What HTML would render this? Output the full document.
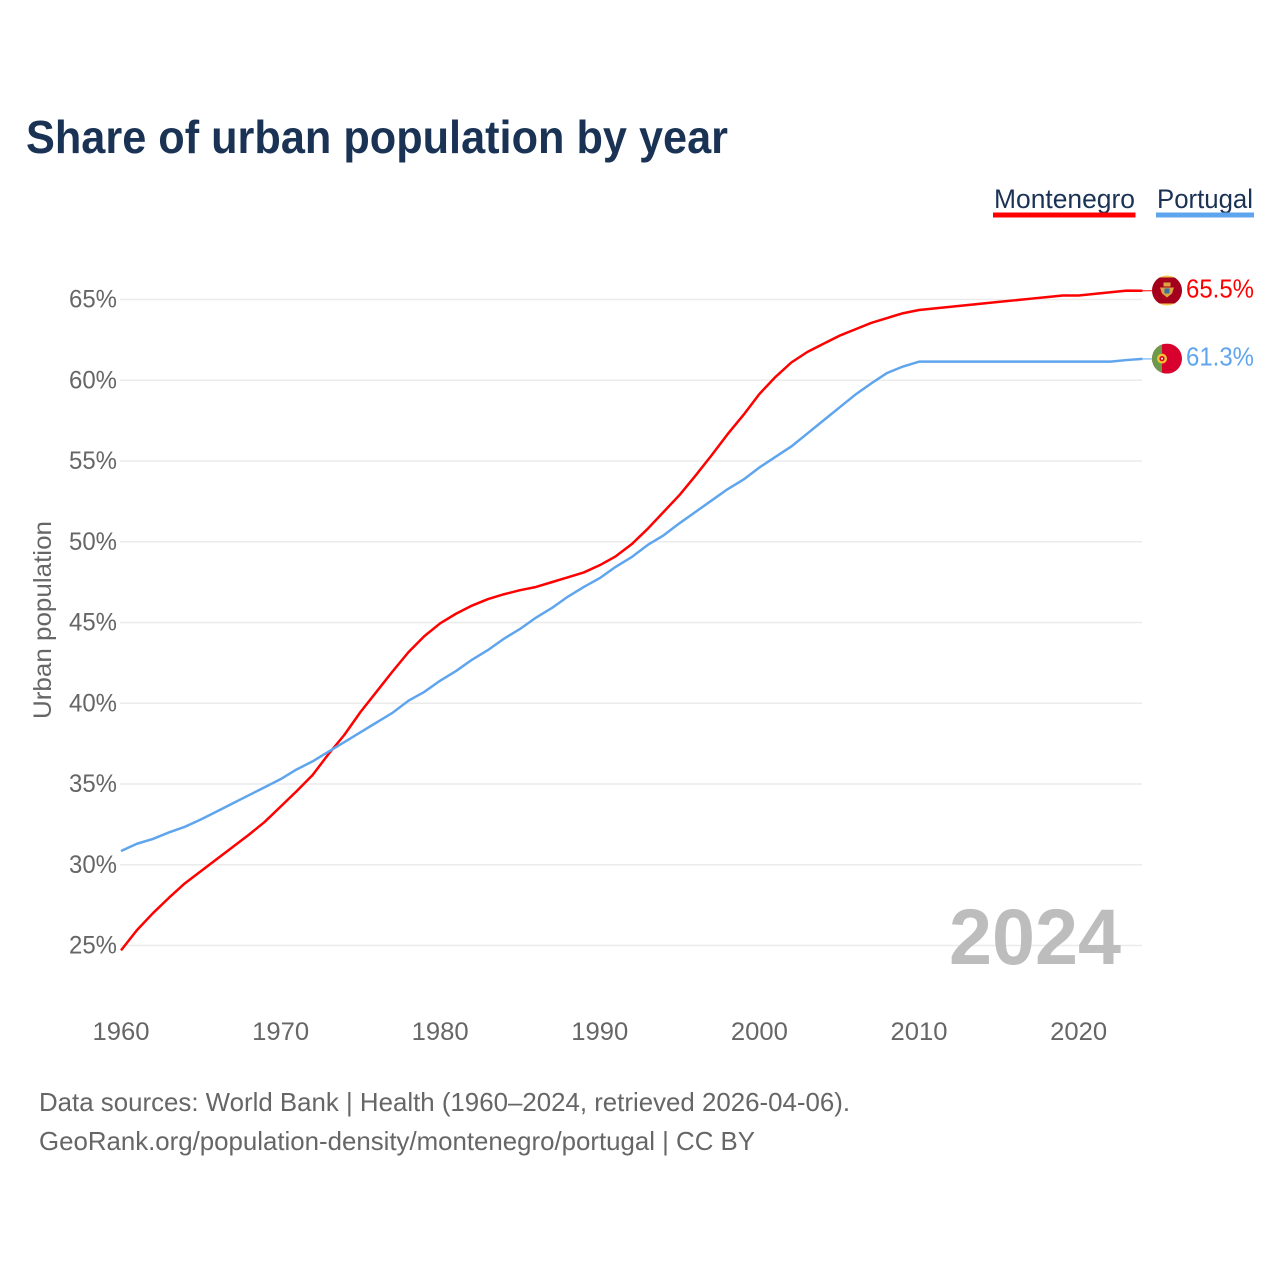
<!DOCTYPE html>
<html lang="en">
<head>
<meta charset="utf-8">
<title>Share of urban population by year</title>
<style>
html,body{margin:0;padding:0;background:#fff;}
svg{display:block;}
text{font-family:"Liberation Sans",sans-serif;}
</style>
</head>
<body>
<svg id="chart" width="1280" height="1280" viewBox="0 0 1280 1280" xmlns="http://www.w3.org/2000/svg">
  <rect width="1280" height="1280" fill="#fff"/>
  <text x="26" y="153" font-size="46" font-weight="700" fill="#1a3355" textLength="702" lengthAdjust="spacingAndGlyphs">Share of urban population by year</text>

  <g>
    <g>
      <text x="994" y="208" font-size="27" fill="#1a3355" textLength="141" lengthAdjust="spacingAndGlyphs">Montenegro</text>
      <rect x="993" y="212.5" width="142.5" height="5" fill="#ff0000"/>
    </g>
    <g>
      <text x="1157" y="208" font-size="27" fill="#1a3355" textLength="96" lengthAdjust="spacingAndGlyphs">Portugal</text>
      <rect x="1156" y="212.5" width="98" height="5" fill="#5fa5ee"/>
    </g>
  </g>

  <g id="grid"></g>
  <g id="yticks"></g>
  <g id="xticks"></g>

  <text transform="translate(51,719) rotate(-90)" x="0" y="0" font-size="25" fill="#666" textLength="198" lengthAdjust="spacingAndGlyphs">Urban population</text>

  <text x="949" y="964" font-size="79" font-weight="700" fill="#bdbdbd" textLength="172" lengthAdjust="spacingAndGlyphs">2024</text>

  <g id="series"></g>

  <g id="flag-montenegro">
    <circle r="15" fill="#f2c94c"/>
    <clipPath id="clipMe"><circle r="15"/></clipPath>
    <rect x="-15" y="-13" width="30" height="26" fill="#a4001d" clip-path="url(#clipMe)"/>
    <rect x="-3.5" y="-8" width="7" height="4" fill="#d9a441"/>
    <path d="M-7 -3 L7 -3 L5 3 L0 7 L-5 3 Z" fill="#d9a441"/>
    <rect x="-2.5" y="-2" width="5" height="5" fill="#3a6ea5"/>
  </g>
  <g id="flag-portugal">
    <clipPath id="clipPt"><circle r="15"/></clipPath>
    <g clip-path="url(#clipPt)">
      <rect x="-15" y="-15" width="30" height="30" fill="#d8002c"/>
      <rect x="-15" y="-15" width="10" height="30" fill="#6a9a4a"/>
    </g>
    <circle cx="-5" cy="0" r="5" fill="#f2c230"/>
    <circle cx="-5" cy="0" r="2.6" fill="#d8002c"/>
    <circle cx="-5" cy="0" r="1" fill="#fff"/>
  </g>

  <text id="end-label-montenegro" x="1186" font-size="26" fill="#ff0000" textLength="68" lengthAdjust="spacingAndGlyphs"></text>
  <text id="end-label-portugal" x="1186" font-size="26" fill="#5fa5ee" textLength="68" lengthAdjust="spacingAndGlyphs"></text>

  <text x="39" y="1111" font-size="26" fill="#666" textLength="811" lengthAdjust="spacingAndGlyphs">Data sources: World Bank | Health (1960–2024, retrieved 2026-04-06).</text>
  <text x="39" y="1150" font-size="26" fill="#666" textLength="716" lengthAdjust="spacingAndGlyphs">GeoRank.org/population-density/montenegro/portugal | CC BY</text>
</svg>
<script>
const startYear = 1960;
const yTickValues = [25, 30, 35, 40, 45, 50, 55, 60, 65];
const yTickLabels = ["25%", "30%", "35%", "40%", "45%", "50%", "55%", "60%", "65%"];
const xTickValues = [1960, 1970, 1980, 1990, 2000, 2010, 2020];
const xTickLabels = ["1960", "1970", "1980", "1990", "2000", "2010", "2020"];
const montenegroValues = [
  24.7, 25.95, 27.0, 27.95, 28.85, 29.6, 30.35, 31.1, 31.85, 32.65,
  33.6, 34.55, 35.55, 36.85, 38.05, 39.45, 40.7, 41.95, 43.15, 44.15,
  44.95, 45.55, 46.05, 46.45, 46.75, 47.0, 47.2, 47.5, 47.8, 48.1,
  48.55, 49.1, 49.85, 50.8, 51.85, 52.9, 54.1, 55.35, 56.65, 57.85,
  59.15, 60.2, 61.1, 61.75, 62.25, 62.75, 63.15, 63.55, 63.85, 64.15,
  64.35, 64.45, 64.55, 64.65, 64.75, 64.85, 64.95, 65.05, 65.15, 65.25,
  65.25, 65.35, 65.45, 65.55, 65.54
];
const portugalValues = [
  30.85, 31.3, 31.6, 32.0, 32.35, 32.8, 33.3, 33.8, 34.3, 34.8,
  35.3, 35.9, 36.4, 37.0, 37.6, 38.2, 38.8, 39.4, 40.15, 40.7,
  41.4, 42.0, 42.7, 43.3, 44.0, 44.6, 45.3, 45.9, 46.6, 47.2,
  47.75, 48.45, 49.05, 49.8, 50.4, 51.15, 51.85, 52.55, 53.25, 53.85,
  54.6, 55.25, 55.9, 56.7, 57.5, 58.3, 59.1, 59.8, 60.45, 60.85,
  61.15, 61.15, 61.15, 61.15, 61.15, 61.15, 61.15, 61.15, 61.15, 61.15,
  61.15, 61.15, 61.15, 61.25, 61.32
];

const NS = "http://www.w3.org/2000/svg";
function xScale(year) { return 121 + (year - 1960) * 15.96; }
function yScale(v) { return 945.5 - (v - 25) * 16.15; }
function make(tag, attrs) {
  const el = document.createElementNS(NS, tag);
  for (const k in attrs) el.setAttribute(k, attrs[k]);
  return el;
}

const grid = document.getElementById("grid");
const yticks = document.getElementById("yticks");
yTickValues.forEach(function (v, i) {
  const line = make("line", { x1: 120, x2: 1142, y1: yScale(v), y2: yScale(v), stroke: "#ebebeb", "stroke-width": 1.4 });
  
  
  grid.appendChild(line);
  const label = make("text", { x: 69, y: yScale(v) + 8, "font-size": 25, fill: "#666", textLength: 48, lengthAdjust: "spacingAndGlyphs" });
  
  
  label.textContent = yTickLabels[i];
  yticks.appendChild(label);
});

const xticks = document.getElementById("xticks");
xTickValues.forEach(function (year, i) {
  const label = make("text", { x: xScale(year) - 28.5, y: 1040, "font-size": 25, fill: "#666", textLength: 57, lengthAdjust: "spacingAndGlyphs" });
  
  
  label.textContent = xTickLabels[i];
  xticks.appendChild(label);
});

const seriesGroup = document.getElementById("series");
function drawSeries(values, color, name, endId, flagId) {
  const d = values.map(function (v, i) {
    return (i ? "L" : "M") + xScale(startYear + i).toFixed(2) + " " + yScale(v).toFixed(2);
  }).join(" ");
  const path = make("path", { d: d, fill: "none", stroke: color, "stroke-width": 2.5, "stroke-linejoin": "round" });
  
  
  seriesGroup.appendChild(path);

  const last = values[values.length - 1];
  const lastX = xScale(startYear + values.length - 1);
  const lastY = yScale(last);
  const connector = make("line", { x1: lastX, x2: 1152, y1: lastY, y2: lastY, stroke: color, "stroke-width": 1 });
  
  
  seriesGroup.appendChild(connector);

  document.getElementById(flagId).setAttribute("transform", "translate(1167," + (lastY - 0.3) + ")");
  const label = document.getElementById(endId);
  label.setAttribute("y", lastY + 6.5);
  label.textContent = last.toFixed(1) + "%";
}
drawSeries(montenegroValues, "#ff0000", "line-montenegro", "end-label-montenegro", "flag-montenegro");
drawSeries(portugalValues, "#5fa5ee", "line-portugal", "end-label-portugal", "flag-portugal");
</script>
</body>
</html>
